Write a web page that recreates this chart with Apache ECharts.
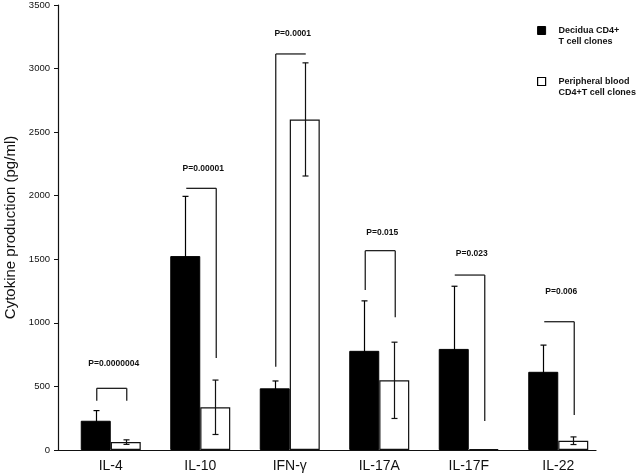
<!DOCTYPE html>
<html>
<head>
<meta charset="utf-8">
<script src="https://cdn.jsdelivr.net/npm/echarts@6/dist/echarts.min.js"></script>
<style>html,body{margin:0;padding:0;background:#fff}#c{width:638px;height:475px}</style>
</head>
<body>
<div id="c"></div>
<script>
var categories = ['IL-4', 'IL-10', 'IFN-γ', 'IL-17A', 'IL-17F', 'IL-22'];
var seriesNames = ['Decidua CD4+\nT cell clones', 'Peripheral blood\nCD4+T cell clones'];
var decidua = [230, 1525, 485, 780, 795, 615];
var deciduaSD = [80, 470, 58, 393, 493, 210];
var peripheral = [62, 336, 2600, 548, 8, 73];
var peripheralSD = [18, 214, 445, 300, 0, 30];
var pValues = ['P=0.0000004', 'P=0.00001', 'P=0.0001', 'P=0.015', 'P=0.023', 'P=0.006'];
var bracketTop = [485, 2058, 3115, 1568, 1376, 1009];
var leftLegBottom = [388, null, 655, 1258, null, null];
var rightLegBottom = [388, 724, null, 1044, 228, 275];
var pLabelValue = [676, 2210, 3277, 1709, 1542, 1245];
var yTicks = [0, 500, 1000, 1500, 2000, 2500, 3000, 3500];

var FONT = 'Arial, "Liberation Sans", sans-serif';
var BAR_W = 30;

function errData(vals, sds) {
  return vals.map(function (v, i) { return [i, v, sds[i]]; });
}

function errRender(offset, color) {
  return function (params, api) {
    var i = api.value(0), v = api.value(1), sd = api.value(2);
    if (!sd) return null;
    var top = api.coord([i, v + sd]);
    var bot = api.coord([i, Math.max(0, v - sd)]);
    var x = Math.round(top[0] + offset) + 0.5;
    var st = { stroke: color, lineWidth: 1.2 };
    return {
      type: 'group',
      children: [
        { type: 'line', shape: { x1: x, y1: top[1], x2: x, y2: bot[1] }, style: st },
        { type: 'line', shape: { x1: x - 3, y1: top[1], x2: x + 3, y2: top[1] }, style: st },
        { type: 'line', shape: { x1: x - 3, y1: bot[1], x2: x + 3, y2: bot[1] }, style: st }
      ]
    };
  };
}

var bracketData = categories.map(function (c, i) {
  return [i, bracketTop[i], leftLegBottom[i] == null ? -1 : leftLegBottom[i],
    rightLegBottom[i] == null ? -1 : rightLegBottom[i], pLabelValue[i]];
});

function bracketRender(params, api) {
  var i = api.value(0);
  var topY = api.coord([i, api.value(1)]);
  var cx = topY[0];
  var xl = cx - BAR_W / 2 + 1, xr = cx + BAR_W / 2 + 1;
  var yTop = topY[1];
  var st = { stroke: '#222', lineWidth: 1.3 };
  var ch = [{ type: 'line', shape: { x1: xl, y1: yTop, x2: xr, y2: yTop }, style: st }];
  var lb = api.value(2), rb = api.value(3);
  if (lb >= 0) ch.push({ type: 'line', shape: { x1: xl, y1: yTop, x2: xl, y2: api.coord([i, lb])[1] }, style: st });
  if (rb >= 0) ch.push({ type: 'line', shape: { x1: xr, y1: yTop, x2: xr, y2: api.coord([i, rb])[1] }, style: st });
  var ly = api.coord([i, api.value(4)])[1];
  ch.push({ type: 'text', style: { x: cx + 3, y: ly, text: pValues[i], align: 'center', verticalAlign: 'middle',
    font: 'bold 8.5px ' + FONT, fill: '#111' } });
  return { type: 'group', children: ch };
}

var chart = echarts.init(document.getElementById('c'), null, { renderer: 'canvas' });
chart.setOption({
  animation: false,
  backgroundColor: '#fff',
  textStyle: { fontFamily: FONT },
  grid: [
    { left: 66, right: 35, top: 5, bottom: 25, outerBoundsMode: 'none', containLabel: false },
    { left: 58, right: 42, top: 5, bottom: 25, outerBoundsMode: 'none', containLabel: false }
  ],
  legend: {
    orient: 'vertical', left: 537, top: 14, padding: 0, itemGap: 18,
    itemWidth: 8, itemHeight: 8, icon: 'rect',
    formatter: function (name) { return '\n' + name; },
    textStyle: { fontFamily: FONT, fontSize: 9, fontWeight: 'bold', color: '#111', lineHeight: 11, padding: [0, 0, 0, 8] },
    data: [
      { name: seriesNames[0], itemStyle: { color: '#000', borderColor: '#000', borderWidth: 1 } },
      { name: seriesNames[1], itemStyle: { color: '#fff', borderColor: '#000', borderWidth: 1.2 } }
    ]
  },
  xAxis: [
    { type: 'category', gridIndex: 0, data: categories,
      axisLine: { show: false }, axisTick: { show: false },
      axisLabel: { color: '#111', fontSize: 14, fontFamily: FONT, margin: 9 } },
    { type: 'value', gridIndex: 1, min: 0, max: 1,
      axisLine: { show: true, lineStyle: { color: '#111', width: 1.2 } },
      axisTick: { show: false }, axisLabel: { show: false }, splitLine: { show: false } }
  ],
  yAxis: [
    { type: 'value', gridIndex: 0, min: 0, max: 3500, interval: 500, offset: 8,
      name: 'Cytokine production (pg/ml)', nameLocation: 'middle', nameGap: 36,
      nameTextStyle: { fontSize: 15, color: '#111', fontFamily: FONT },
      axisLine: { show: true, lineStyle: { color: '#111', width: 1.2 } },
      axisTick: { show: true, length: 4, lineStyle: { color: '#111' } },
      axisLabel: { color: '#111', fontSize: 9.5, fontFamily: FONT, margin: 8,
        formatter: function (v) { return yTicks.indexOf(v) >= 0 ? String(v) : ''; } },
      splitLine: { show: false } },
    { type: 'value', gridIndex: 1, min: 0, max: 1, show: false }
  ],
  series: [
    { name: seriesNames[0], type: 'bar', xAxisIndex: 0, yAxisIndex: 0, data: decidua,
      barWidth: BAR_W, barGap: '0%', itemStyle: { color: '#000', borderColor: '#000', borderWidth: 1 } },
    { name: seriesNames[1], type: 'bar', xAxisIndex: 0, yAxisIndex: 0, data: peripheral,
      barWidth: BAR_W, barGap: '0%', itemStyle: { color: '#fff', borderColor: '#111', borderWidth: 1.2 } },
    { type: 'custom', xAxisIndex: 0, yAxisIndex: 0, data: errData(decidua, deciduaSD),
      renderItem: errRender(-BAR_W / 2, '#000'), z: 5 },
    { type: 'custom', xAxisIndex: 0, yAxisIndex: 0, data: errData(peripheral, peripheralSD),
      renderItem: errRender(BAR_W / 2, '#111'), z: 5 },
    { type: 'custom', xAxisIndex: 0, yAxisIndex: 0, data: bracketData, renderItem: bracketRender, z: 6 }
  ]
});
</script>
</body>
</html>
